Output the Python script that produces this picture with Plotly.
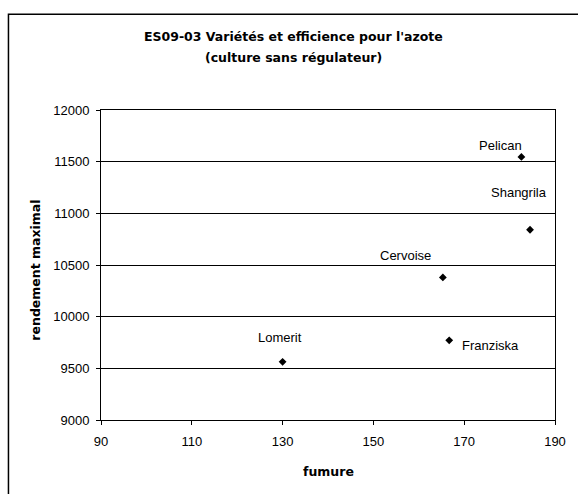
import plotly.graph_objects as go

varieties = ["Pelican", "Shangrila", "Cervoise", "Franziska", "Lomerit"]
fumure = [182.6, 184.5, 165.3, 166.7, 130.0]
rendement = [11546, 10841, 10380, 9771, 9563]
# label offsets in pixels (dx, dy upward)
label_dx = [-21, -11, -37, 41, -3]
label_dy = [11, 37, 22, -5, 24]

x_ticks = [90, 110, 130, 150, 170, 190]
y_ticks = [9000, 9500, 10000, 10500, 11000, 11500, 12000]

title_lines = ["ES09-03 Variétés et efficience pour l'azote", "(culture sans régulateur)"]
x_title = "fumure"
y_title = "rendement maximal"

FONT = "Liberation Sans, Arial, sans-serif"
BOLD_FONT = "DejaVu Sans, Liberation Sans, Arial, sans-serif"

W, H = 578, 494
L, R, T, B = 101, 559.7, 109.5, 420.5
pw, ph = R - L, B - T

def px_x(x):
    return (x - L) / pw

def px_y(y):
    return (B - y) / ph

fig = go.Figure()
fig.add_trace(go.Scatter(
    x=fumure, y=rendement, mode="markers",
    marker=dict(symbol="diamond", size=6, color="black"),
    showlegend=False, hoverinfo="text", text=varieties,
))

annotations = []
for name, x, y, dx, dy in zip(varieties, fumure, rendement, label_dx, label_dy):
    annotations.append(dict(
        x=x, y=y, xref="x", yref="y", text=name, showarrow=False,
        xshift=dx, yshift=dy, font=dict(family=FONT, size=13, color="black"),
        xanchor="center", yanchor="middle",
    ))

for line, ypix in zip(title_lines, [36, 56.7]):
    annotations.append(dict(
        x=px_x(295.5), y=px_y(ypix), xref="paper", yref="paper",
        text="<b>" + line + "</b>",
        showarrow=False, xanchor="center", yanchor="middle",
        font=dict(family=BOLD_FONT, size=12.5, color="black"),
    ))
annotations.append(dict(
    x=0.5, y=px_y(471.7), xref="paper", yref="paper", text="<b>" + x_title + "</b>",
    showarrow=False, xanchor="center", yanchor="middle",
    font=dict(family=BOLD_FONT, size=12.5, color="black"),
))
annotations.append(dict(
    x=px_x(35), y=px_y(270), xref="paper", yref="paper", text="<b>" + y_title + "</b>",
    showarrow=False, xanchor="center", yanchor="middle", textangle=-90,
    font=dict(family=BOLD_FONT, size=12.5, color="black"),
))

fig.update_layout(
    width=W, height=H,
    margin=dict(l=L, r=W - R, t=T, b=H - B, pad=0),
    paper_bgcolor="white", plot_bgcolor="white",
    annotations=annotations,
    font=dict(family=FONT, size=13, color="black"),
    shapes=[dict(
        type="rect", xref="paper", yref="paper",
        x0=px_x(7.5), x1=px_x(600), y0=px_y(520), y1=px_y(13.5),
        line=dict(color="black", width=1.5), fillcolor="rgba(0,0,0,0)", layer="below",
    )],
)
fig.update_xaxes(
    range=[90, 190], tickvals=x_ticks, ticktext=[str(v) for v in x_ticks],
    showgrid=False, zeroline=False, showline=True, linecolor="black", linewidth=1,
    mirror=True, ticks="outside", ticklen=4, tickcolor="black", ticklabelstandoff=5,
    tickfont=dict(family=FONT, size=13, color="black"),
)
fig.update_yaxes(
    range=[9000, 12000], tickvals=y_ticks, ticktext=[str(v) for v in y_ticks],
    showgrid=True, gridcolor="black", gridwidth=1, zeroline=False,
    showline=True, linecolor="black", linewidth=1, mirror=True,
    ticks="outside", ticklen=4, tickcolor="black", ticklabelstandoff=4,
    tickfont=dict(family=FONT, size=13, color="black"),
)

fig.write_html(
    "out.html",
    config={"displayModeBar": False},
    post_script="document.body.style.margin='0';document.body.style.overflow='hidden';",
)
